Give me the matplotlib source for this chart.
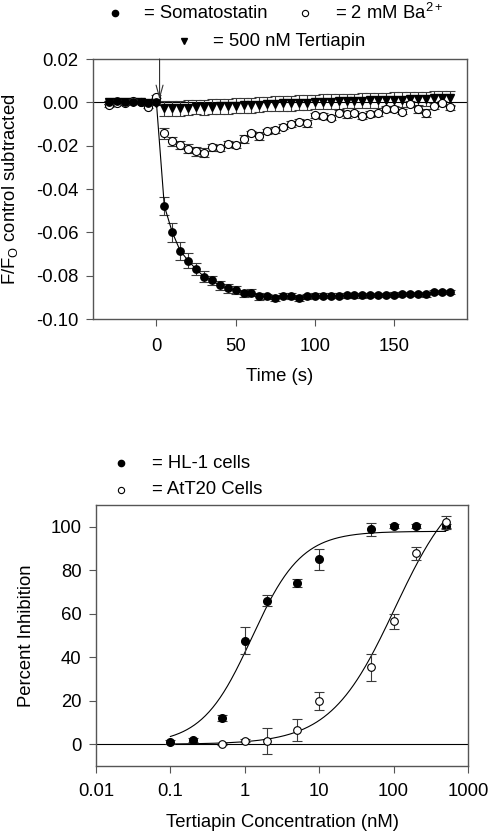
import numpy as np
import matplotlib
matplotlib.use("Agg")
import matplotlib.pyplot as plt
from matplotlib.ticker import FixedLocator, FixedFormatter, NullLocator

plt.rcParams['font.family'] = ['Liberation Sans', 'DejaVu Sans']
plt.rcParams['axes.unicode_minus'] = False
plt.rcParams['mathtext.fontset'] = 'custom'
plt.rcParams['mathtext.rm'] = 'Liberation Sans'

# ---------------- Top panel data ----------------
time_s = list(range(-30, 190, 5))

somatostatin = [0.0, 0.0005, 0.0, 0.0002, 0.0, -0.0002, 0.0,
                -0.0478, -0.0599, -0.0685, -0.0730, -0.0770, -0.0804, -0.0822, -0.0845,
                -0.0859, -0.0867, -0.0881, -0.0878, -0.0896, -0.0896, -0.0902,
                -0.0893, -0.0895, -0.0903, -0.0896, -0.0893, -0.0893, -0.0892, -0.0892,
                -0.0891, -0.0891, -0.0890, -0.0890, -0.0889, -0.0888, -0.0887, -0.0885,
                -0.0884, -0.0884, -0.0886, -0.0876, -0.0875, -0.0876]
somatostatin_err = [0.0008] * 7 + [0.0042, 0.0044, 0.0042, 0.0033, 0.0028, 0.0025, 0.0022, 0.0020,
                                   0.0020, 0.0018, 0.0016, 0.0015, 0.0014, 0.0013, 0.0013] + \
                   [0.0012, 0.0013, 0.0012, 0.0012, 0.0011, 0.0012, 0.0011, 0.0011, 0.0011, 0.0010,
                    0.0011, 0.0010, 0.0010, 0.0010, 0.0010, 0.0010, 0.0010, 0.0010, 0.0011, 0.0010,
                    0.0010, 0.0010]

barium = [-0.0014, -0.0005, -0.0005, 0.0007, 0.0, -0.0020, 0.0026,
          -0.0143, -0.0180, -0.0197, -0.0214, -0.0226, -0.0233, -0.0208, -0.0210,
          -0.0193, -0.0197, -0.0171, -0.0143, -0.0156, -0.0133, -0.0128,
          -0.0113, -0.0100, -0.0090, -0.0097, -0.0059, -0.0063, -0.0071, -0.0048,
          -0.0056, -0.0051, -0.0063, -0.0054, -0.0051, -0.0030, -0.0031, -0.0043,
          -0.0008, -0.0030, -0.0051, -0.0017, -0.0005, -0.0023]
barium_err = [0.0008] * 7 + [0.0025, 0.0020, 0.0020, 0.0020, 0.0020, 0.0020, 0.0015, 0.0015,
                             0.0015, 0.0015, 0.0018, 0.0012, 0.0018, 0.0012, 0.0012] + \
             [0.0012, 0.0012, 0.0012, 0.0015, 0.0012, 0.0015, 0.0012, 0.0012, 0.0015, 0.0012,
              0.0012, 0.0012, 0.0012, 0.0012, 0.0015, 0.0012, 0.0015, 0.0018, 0.0018, 0.0012,
              0.0012, 0.0012]

tertiapin = [0.0, 0.0003, 0.0, 0.0, 0.0, -0.0004, -0.0002,
             -0.0027, -0.0028, -0.0027, -0.0024, -0.0022, -0.0023, -0.0020, -0.0018,
             -0.0019, -0.0015, -0.0013, -0.0013, -0.0011, -0.0008, -0.0007,
             -0.0004, -0.0004, -0.0002, -0.0001, 0.0002, 0.0003, 0.0003, 0.0005,
             0.0006, 0.0006, 0.0008, 0.0009, 0.0010, 0.0011, 0.0012, 0.0013,
             0.0014, 0.0015, 0.0016, 0.0018, 0.0018, 0.0019]
tertiapin_err = [0.0008] * 7 + [0.0034] * 37

top_yticks = [0.02, 0.00, -0.02, -0.04, -0.06, -0.08, -0.10]
top_xticks = [0, 50, 100, 150]

# ---------------- Bottom panel data ----------------
hl1_conc = [0.1, 0.2, 0.5, 1, 2, 5, 10, 50, 100, 200, 500]
hl1_inhib = [1.0, 2.0, 12.1, 47.7, 66.0, 74.2, 85.0, 98.8, 100.4, 100.4, 100.2]
hl1_err = [0.8, 1.0, 1.5, 6.0, 2.5, 2.0, 5.0, 3.0, 1.0, 1.0, 1.0]
hl1_fit = dict(top=97.9, ic50=1.24, hill=1.3)

att20_conc = [0.5, 1, 2, 5, 10, 50, 100, 200, 500]
att20_inhib = [0.2, 1.7, 1.3, 6.5, 19.8, 35.3, 56.5, 87.9, 102.0]
att20_err = [0.5, 0.8, 6.0, 5.2, 4.2, 6.0, 3.5, 3.0, 3.0]
att20_fit = dict(top=125.0, ic50=104.0, hill=1.0)

bottom_xticks = [0.01, 0.1, 1, 10, 100, 1000]
bottom_xticklabels = ['0.01', '0.1', '1', '10', '100', '1000']
bottom_yticks = [0, 20, 40, 60, 80, 100]

FS = 13.3
SPINE = '#555555'
ERRC = '#3a3a3a'

fig = plt.figure(figsize=(4.9, 8.35), dpi=100)
W, H = 490.0, 835.0


def ax_rect(l, t, r, b):
    return [l / W, 1 - b / H, (r - l) / W, (b - t) / H]


# ================= Top axes =================
ax1 = fig.add_axes(ax_rect(93, 59, 467, 319))
ax1.axhline(0, color='black', lw=0.8, zorder=1)
ax1.errorbar(time_s, tertiapin, yerr=tertiapin_err, fmt='v', color='black', ms=5.5,
             ecolor=ERRC, elinewidth=0.8, capsize=3.3, capthick=0.8, zorder=3)
ax1.errorbar(time_s, barium, yerr=barium_err, fmt='o', mfc='white', mec='black', mew=0.8,
             ms=5.8, ecolor=ERRC, elinewidth=0.8, capsize=3.3, capthick=0.8, zorder=4)
ax1.errorbar(time_s, somatostatin, yerr=somatostatin_err, fmt='o-', color='black', lw=0.8,
             ms=5.3, ecolor=ERRC, elinewidth=0.8, capsize=3.3, capthick=0.8, zorder=5)
ax1.annotate('', xy=(2, 0.0012), xytext=(2, 0.02),
             arrowprops=dict(arrowstyle='->,head_length=0.9,head_width=0.25', color='#333333', lw=0.8,
                             shrinkA=0, shrinkB=0), zorder=6)
ax1.set_xlim(-40, 196)
ax1.set_ylim(-0.10, 0.02)
ax1.yaxis.set_major_locator(FixedLocator(top_yticks))
ax1.yaxis.set_major_formatter(FixedFormatter(['%.2f' % v for v in top_yticks]))
ax1.xaxis.set_major_locator(FixedLocator(top_xticks))
ax1.tick_params(axis='x', direction='out', length=5, width=0.8, color=SPINE, pad=8.5, labelsize=FS)
ax1.tick_params(axis='y', direction='out', length=5, width=0.8, color=SPINE, pad=5.5, labelsize=FS)
ax1.set_xlabel('Time (s)', fontsize=FS)
ax1.set_ylabel(r'F/F$_\mathrm{O}$ control subtracted', fontsize=FS)
ax1.xaxis.set_label_coords(0.5, -0.19)
ax1.yaxis.set_label_coords(-0.195, 0.5)
for s in ax1.spines.values():
    s.set_color(SPINE)
    s.set_linewidth(1.0)


def fig_marker(x, y, **kw):
    fig.add_artist(plt.Line2D([x / W], [1 - y / H], transform=fig.transFigure, linestyle='none', **kw))


fig_marker(115, 13, marker='o', color='black', ms=4.5)
fig.text(144 / W, 1 - 13 / H, '= Somatostatin', fontsize=FS, va='center', ha='left')
fig_marker(305, 13, marker='o', mfc='white', mec='black', mew=0.8, ms=4.5)
fig.text(335 / W, 1 - 13 / H, r'= 2 mM Ba$^{2+}$', fontsize=FS, va='center', ha='left')
fig_marker(184, 41, marker='v', color='black', ms=4.5)
fig.text(213 / W, 1 - 41 / H, '= 500 nM Tertiapin', fontsize=FS, va='center', ha='left')

# ================= Bottom axes =================
ax2 = fig.add_axes(ax_rect(96, 505, 468, 766))
ax2.set_xscale('log')
ax2.axhline(0, color='black', lw=0.8, zorder=1)


def hill(x, top, ic50, hill):
    return top * x ** hill / (x ** hill + ic50 ** hill)


xs = np.logspace(np.log10(0.1), np.log10(500), 300)
ax2.plot(xs, hill(xs, **hl1_fit), color='black', lw=0.8, zorder=2)
ax2.plot(xs, hill(xs, **att20_fit), color='black', lw=0.8, zorder=2)
ax2.errorbar(att20_conc, att20_inhib, yerr=att20_err, fmt='o', mfc='white', mec='black', mew=0.8,
             ms=5.5, ecolor=ERRC, elinewidth=0.8, capsize=3.5, capthick=0.8, zorder=4)
ax2.errorbar(hl1_conc, hl1_inhib, yerr=hl1_err, fmt='o', color='black', ms=5.5,
             ecolor=ERRC, elinewidth=0.8, capsize=3.5, capthick=0.8, zorder=3)
ax2.set_xlim(0.01, 1000)
ax2.set_ylim(-10, 110)
ax2.xaxis.set_major_locator(FixedLocator(bottom_xticks))
ax2.xaxis.set_major_formatter(FixedFormatter(bottom_xticklabels))
ax2.xaxis.set_minor_locator(NullLocator())
ax2.yaxis.set_major_locator(FixedLocator(bottom_yticks))
ax2.tick_params(axis='x', direction='out', length=5, width=0.8, color=SPINE, pad=7.5, labelsize=FS)
ax2.tick_params(axis='y', direction='out', length=5, width=0.8, color=SPINE, pad=5.5, labelsize=FS)
ax2.set_xlabel('Tertiapin Concentration (nM)', fontsize=FS)
ax2.set_ylabel('Percent Inhibition', fontsize=FS)
ax2.xaxis.set_label_coords(0.5, -0.185)
ax2.yaxis.set_label_coords(-0.165, 0.5)
for s in ax2.spines.values():
    s.set_color(SPINE)
    s.set_linewidth(1.0)

fig_marker(121, 463, marker='o', color='black', ms=4.5)
fig.text(152 / W, 1 - 463 / H, '= HL-1 cells', fontsize=FS, va='center', ha='left')
fig_marker(121, 490, marker='o', mfc='white', mec='black', mew=0.8, ms=4.5)
fig.text(152 / W, 1 - 490 / H, '= AtT20 Cells', fontsize=FS, va='center', ha='left')

fig.savefig('out.png', dpi=100)
